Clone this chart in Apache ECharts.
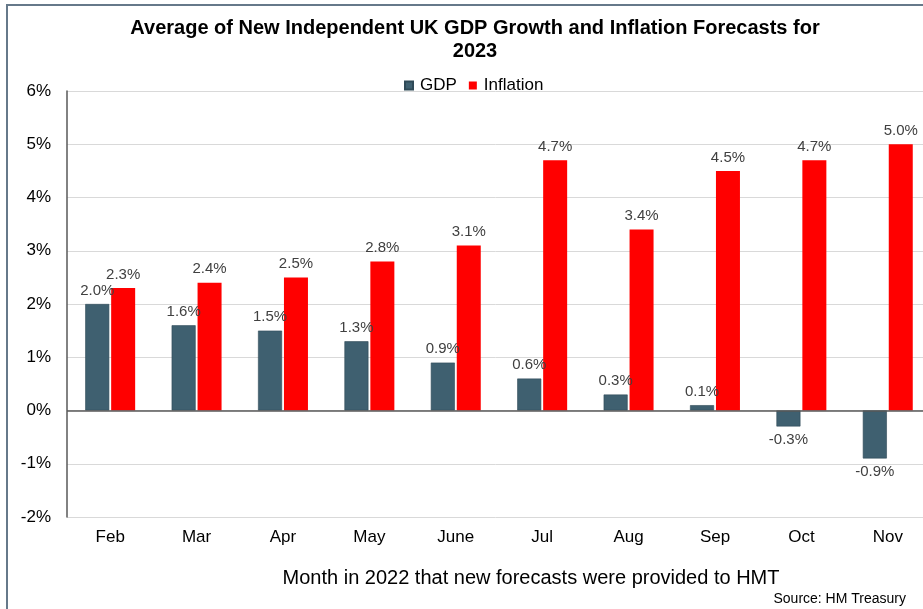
<!DOCTYPE html>
<html>
<head>
<meta charset="utf-8">
<script src="https://cdn.jsdelivr.net/npm/echarts@6/dist/echarts.min.js"></script>
<style>
  html, body { margin: 0; padding: 0; background: #fff; }
  #chart { width: 923px; height: 609px; }
</style>
</head>
<body>
<div id="chart"></div>
<script>
// Month in 2022 when each new set of forecasts was provided
const months = ['Feb', 'Mar', 'Apr', 'May', 'June', 'Jul', 'Aug', 'Sep', 'Oct', 'Nov'];
// Average forecast for 2023, per cent
const gdpValues = [2.0, 1.6, 1.5, 1.3, 0.9, 0.6, 0.3, 0.1, -0.3, -0.9];
const inflationValues = [2.3, 2.4, 2.5, 2.8, 3.1, 4.7, 3.4, 4.5, 4.7, 5.0];
// Value axis range and step
const yMin = -2, yMax = 6, yStep = 1;

const FONT = '"Liberation Sans", Arial, sans-serif';
const chart = echarts.init(document.getElementById('chart'), null, { renderer: 'canvas' });

const pctLabel = v => v.toFixed(1) + '%';

chart.setOption({
  animation: false,
  backgroundColor: '#fff',
  textStyle: { fontFamily: FONT },
  title: [
    {
      text: 'Average of New Independent UK GDP Growth and Inflation Forecasts for\n2023',
      left: 470, top: 12, textAlign: 'center',
      textStyle: { fontFamily: FONT, fontSize: 20, fontWeight: 'bold', color: '#000', lineHeight: 23 }
    },
    {
      text: 'Month in 2022 that new forecasts were provided to HMT',
      left: 526, top: 563, textAlign: 'center',
      textStyle: { fontFamily: FONT, fontSize: 20, fontWeight: 'normal', color: '#000' }
    },
    {
      text: 'Source: HM Treasury',
      right: 12, top: 587,
      textStyle: { fontFamily: FONT, fontSize: 14, fontWeight: 'normal', color: '#000' }
    }
  ],
  legend: {
    top: 72, left: 399,
    itemWidth: 8, itemHeight: 8, itemGap: 12,
    icon: 'rect',
    textStyle: { fontFamily: FONT, fontSize: 17, color: '#000', padding: [0, 0, 0, 2] },
    data: ['GDP', 'Inflation']
  },
  grid: { left: 67, right: -8, top: 91, bottom: 92, containLabel: false, outerBoundsMode: 'none' },
  xAxis: {
    type: 'category',
    data: months,
    axisLine: { show: false, onZero: false },
    axisTick: { show: false },
    axisLabel: { fontFamily: FONT, fontSize: 17, color: '#000', margin: 12 }
  },
  yAxis: {
    type: 'value',
    min: yMin, max: yMax, interval: yStep,
    axisLine: { show: true, lineStyle: { color: '#595959', width: 1.5 } },
    axisTick: { show: false },
    axisLabel: { fontFamily: FONT, fontSize: 17, color: '#000', margin: 16, formatter: v => v + '%' },
    splitLine: { lineStyle: { color: '#d9d9d9', width: 1 } }
  },
  series: [
    {
      name: 'GDP', type: 'bar',
      data: gdpValues.map(v => ({
        value: v,
        label: { position: v < 0 ? 'bottom' : 'top' }
      })),
      barWidth: 24, barGap: '8%',
      itemStyle: { color: '#3f6070', borderColor: '#2f4a57', borderWidth: 0.6 },
      label: {
        show: true, fontFamily: FONT, fontSize: 15, color: '#404040', distance: 6,
        formatter: p => pctLabel(p.value)
      },
      markLine: {
        silent: true, symbol: 'none', animation: false,
        label: { show: false },
        lineStyle: { color: '#595959', width: 1.5, type: 'solid' },
        data: [{ yAxis: 0 }]
      }
    },
    {
      name: 'Inflation', type: 'bar',
      data: inflationValues,
      barWidth: 24,
      itemStyle: { color: '#ff0000' },
      label: {
        show: true, position: 'top', fontFamily: FONT, fontSize: 15, color: '#404040', distance: 6,
        formatter: p => pctLabel(p.value)
      }
    }
  ],
  graphic: [
    { type: 'rect', shape: { x: 6, y: 4, width: 940, height: 2 }, style: { fill: '#66798a' }, silent: true },
    { type: 'rect', shape: { x: 6, y: 4, width: 2, height: 620 }, style: { fill: '#66798a' }, silent: true }
  ]
});
</script>
</body>
</html>
